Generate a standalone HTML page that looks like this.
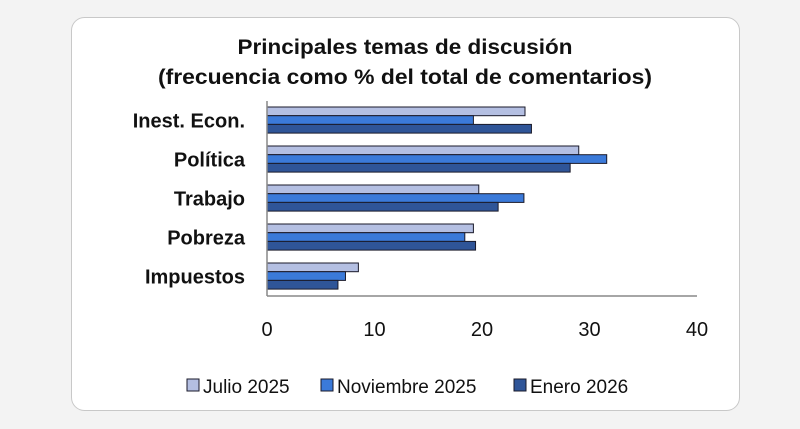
<!DOCTYPE html>
<html><head><meta charset="utf-8"><style>
html,body{margin:0;padding:0;background:#f3f3f3;}
svg{display:block;font-family:"Liberation Sans",sans-serif;}
</style></head><body>
<svg width="800" height="429" viewBox="0 0 800 429">
<rect x="71.5" y="17.5" width="668" height="393" rx="13" fill="#fff" stroke="#c8c8c8"/>
<text x="405" y="54" text-anchor="middle" font-size="21" font-weight="bold" fill="#111" textLength="335" lengthAdjust="spacingAndGlyphs">Principales temas de discusión</text>
<text x="405" y="84" text-anchor="middle" font-size="21" font-weight="bold" fill="#111" textLength="494" lengthAdjust="spacingAndGlyphs">(frecuencia como % del total de comentarios)</text>
<g id="plot"></g>
<g id="legend"></g>
</svg>
<script>
const categories=["Inest. Econ.","Política","Trabajo","Pobreza","Impuestos"];
const seriesNames=["Julio 2025","Noviembre 2025","Enero 2026"];
const julio=[24.0,29.0,19.7,19.2,8.5];
const noviembre=[19.2,31.6,23.9,18.4,7.3];
const enero=[24.6,28.2,21.5,19.4,6.6];
const ticks=[0,10,20,30,40];
const colors=["#b4bfe2","#3b7ad9","#2f5598"];
const NS="http://www.w3.org/2000/svg";
const x0=267,x1=697,yTop=101,yBot=296,xMax=40;
const xs=v=>x0+(v/xMax)*(x1-x0);
const band=(yBot-yTop)/categories.length;
const plot=document.getElementById('plot');
function mk(t,a,p){const e=document.createElementNS(NS,t);for(const k in a)e.setAttribute(k,a[k]);(p||plot).appendChild(e);return e;}
const series=[julio,noviembre,enero];
const bh=8.7;
categories.forEach((c,i)=>{
  const gy=yTop+i*band+6;
  series.forEach((s,j)=>{
    const r=mk('rect',{x:x0,y:gy+j*bh,width:xs(s[i])-x0,height:bh,fill:colors[j],stroke:"#1a1a2a","stroke-width":1});
    
    
  });
  const t=mk('text',{x:245,y:yTop+i*band+band/2+7,"text-anchor":"end","font-size":20,"font-weight":"bold",fill:"#111"});
  t.textContent=c;
  
  
});
const ya=mk('line',{x1:x0,y1:yTop,x2:x0,y2:yBot,stroke:"#888","stroke-width":1.5});


const xa=mk('line',{x1:x0,y1:yBot,x2:x1,y2:yBot,stroke:"#888","stroke-width":1.5});


ticks.forEach(v=>{
  const t=mk('text',{x:xs(v),y:336,"text-anchor":"middle","font-size":20,fill:"#111"});
  t.textContent=v;
  
  
});
const lg=document.getElementById('legend');
const lx=[187,321,514];
seriesNames.forEach((n,j)=>{
  const r=mk('rect',{x:lx[j],y:379,width:12,height:12,fill:colors[j],stroke:"#1a1a2a","stroke-width":1},lg);
  
  
  const t=mk('text',{x:lx[j]+16,y:393,"font-size":19,fill:"#111"},lg);
  t.textContent=n;
  
  
});
</script>
</body></html>
